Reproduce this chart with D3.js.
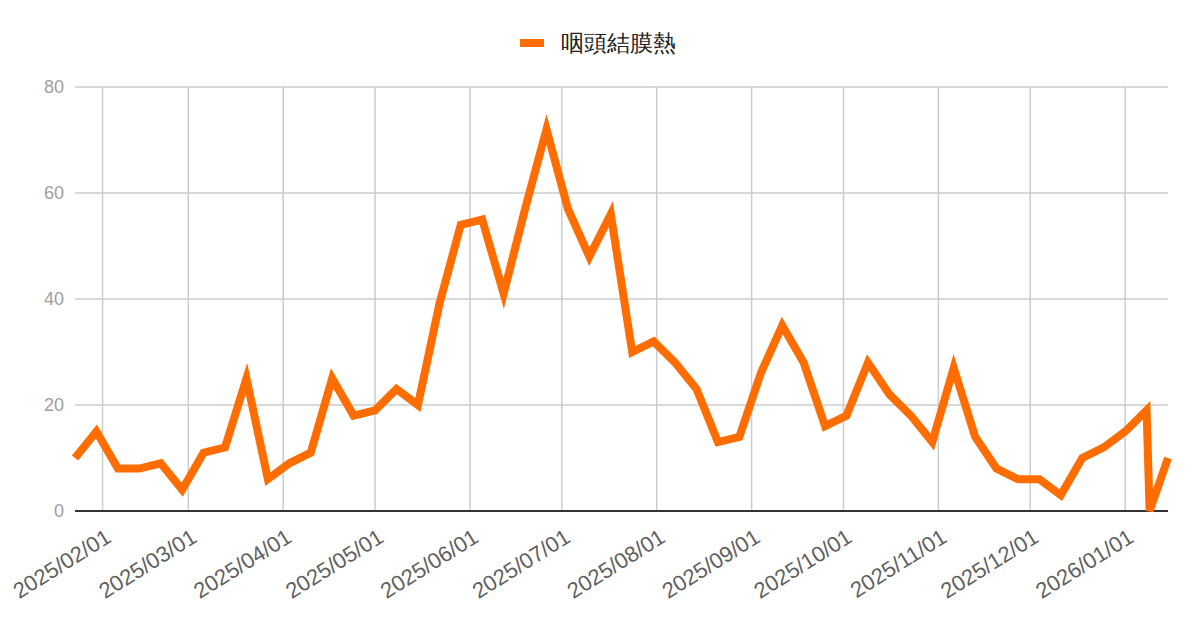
<!DOCTYPE html>
<html>
<head>
<meta charset="utf-8">
<script src="https://cdn.jsdelivr.net/npm/d3@7"></script>
<style>
  body { margin: 0; background: #fff; }
  text { font-family: "Liberation Sans", Arial, sans-serif; }
</style>
</head>
<body>
<div id="chart"></div>
<script>
// weekly counts, last two points come from the new-year series
var seriesName = "咽頭結膜熱";
var dates = ["2025-01-23","2025-01-30","2025-02-06","2025-02-13","2025-02-20","2025-02-27",
  "2025-03-06","2025-03-13","2025-03-20","2025-03-27","2025-04-03","2025-04-10","2025-04-17",
  "2025-04-24","2025-05-01","2025-05-08","2025-05-15","2025-05-22","2025-05-29","2025-06-05",
  "2025-06-12","2025-06-19","2025-06-26","2025-07-03","2025-07-10","2025-07-17","2025-07-24",
  "2025-07-31","2025-08-07","2025-08-14","2025-08-21","2025-08-28","2025-09-04","2025-09-11",
  "2025-09-18","2025-09-25","2025-10-02","2025-10-09","2025-10-16","2025-10-23","2025-10-30",
  "2025-11-06","2025-11-13","2025-11-20","2025-11-27","2025-12-04","2025-12-11","2025-12-18",
  "2025-12-25","2026-01-01","2026-01-08","2026-01-09","2026-01-15"];
var values = [10,15,8,8,9,4,11,12,25,6,9,11,25,18,19,23,20,39,54,55,41,57,72,57,48,56,30,
  32,28,23,13,14,26,35,28,16,18,28,22,18,13,27,14,8,6,6,3,10,12,15,19,0,10];
var yTicks = [0,20,40,60,80];
var xTicks = ["2025-02-01","2025-03-01","2025-04-01","2025-05-01","2025-06-01","2025-07-01",
  "2025-08-01","2025-09-01","2025-10-01","2025-11-01","2025-12-01","2026-01-01"];

var parse = d3.timeParse("%Y-%m-%d");
var fmt = d3.timeFormat("%Y/%m/%d");
var data = dates.map(function(d,i){ return { date: parse(d), value: values[i] }; });

var W = 1200, H = 626;
var margin = { left: 75, right: 32, top: 87, bottom: 115 };

var svg = d3.select("#chart").append("svg")
    .attr("width", W)
    .attr("height", H);

var x = d3.scaleTime()
    .domain(d3.extent(data, function(d){ return d.date; }))
    .range([margin.left, W - margin.right]);

var y = d3.scaleLinear()
    .domain([0, 80])
    .range([H - margin.bottom, margin.top]);

// horizontal grid + y labels
svg.append("g").selectAll("line").data(yTicks).enter().append("line")
    .attr("x1", margin.left).attr("x2", W - margin.right)
    .attr("y1", function(d){ return y(d); }).attr("y2", function(d){ return y(d); })
    .attr("stroke", "#cccccc").attr("stroke-width", 1.5);

svg.append("g").selectAll("text").data(yTicks).enter().append("text")
    .attr("x", margin.left - 11)
    .attr("y", function(d){ return y(d); })
    .attr("dy", "0.36em")
    .attr("text-anchor", "end")
    .attr("font-size", 18)
    .attr("fill", "#9e9e9e")
    .text(function(d){ return d; });

// vertical grid at month starts
var xt = xTicks.map(parse);
svg.append("g").selectAll("line").data(xt).enter().append("line")
    .attr("x1", function(d){ return x(d); }).attr("x2", function(d){ return x(d); })
    .attr("y1", margin.top).attr("y2", H - margin.bottom)
    .attr("stroke", "#cccccc").attr("stroke-width", 1.5);

svg.append("g").selectAll("text").data(xt).enter().append("text")
    .attr("transform", function(d){ return "translate(" + (x(d) + 10) + "," + (H - margin.bottom + 30) + ") rotate(-32)"; })
    .attr("text-anchor", "end")
    .attr("font-size", 22)
    .attr("fill", "#5f5f5f")
    .text(function(d){ return fmt(d); });

// baseline
svg.append("line")
    .attr("x1", margin.left).attr("x2", W - margin.right)
    .attr("y1", y(0)).attr("y2", y(0))
    .attr("stroke", "#333333").attr("stroke-width", 2);

// series
var line = d3.line()
    .x(function(d){ return x(d.date); })
    .y(function(d){ return y(d.value); });

svg.append("path")
    .datum(data)
    .attr("d", line)
    .attr("fill", "none")
    .attr("stroke", "#ff6d00")
    .attr("stroke-width", 8);

// legend
var legend = svg.append("g").attr("transform", "translate(520,43)");
legend.append("rect")
    .attr("x", 0).attr("y", -4)
    .attr("width", 24).attr("height", 8)
    .attr("fill", "#ff6d00");
legend.append("text")
    .attr("x", 41).attr("y", 0)
    .attr("dy", "0.36em")
    .attr("font-size", 23)
    .attr("font-family", "'Noto Sans CJK JP', sans-serif")
    .attr("fill", "#222222")
    .text(seriesName);
</script>
</body>
</html>
